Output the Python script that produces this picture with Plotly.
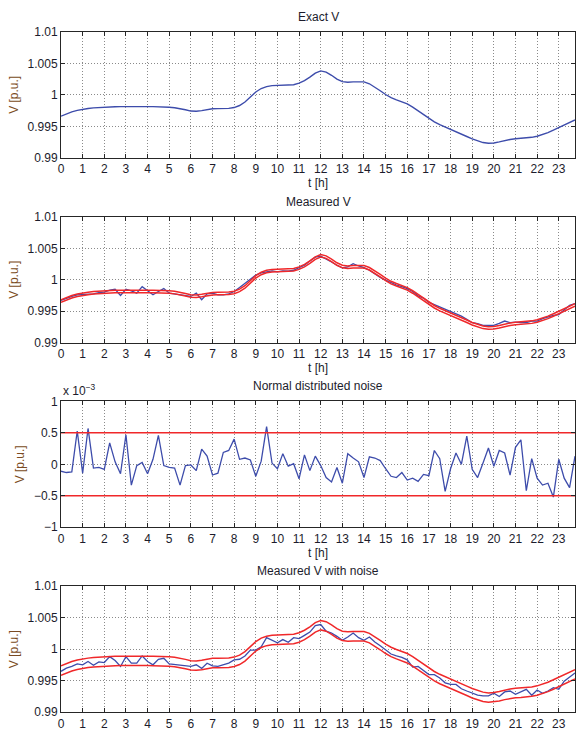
import plotly.graph_objects as go

# ---------------- data ----------------
hours = [q / 4 for q in range(96)]          # 15-minute samples, 0 .. 23.75 h
hour_ticks = list(range(24))

v_ticks = [0.99, 0.995, 1.0, 1.005, 1.01]
v_tick_text = ["0.99", "0.995", "1", "1.005", "1.01"]
noise_ticks = [-1, -0.5, 0, 0.5, 1]
noise_tick_text = ["\u22121", "\u22120.5", "0", "0.5", "1"]

exact_v = [
    0.99660, 0.99700, 0.99728, 0.99752, 0.99770, 0.99782, 0.99792, 0.99799,
    0.99804, 0.99808, 0.99811, 0.99813, 0.99815, 0.99816, 0.99816, 0.99815,
    0.99813, 0.99812, 0.99811, 0.99808, 0.99803, 0.99795, 0.99782, 0.99762,
    0.99742, 0.99738, 0.99748, 0.99765, 0.99778, 0.99780, 0.99781, 0.99785,
    0.99798, 0.99830, 0.99885, 0.99960, 1.00045, 1.00100, 1.00130, 1.00145,
    1.00150, 1.00150, 1.00150, 1.00160, 1.00185, 1.00225, 1.00280, 1.00345,
    1.00380, 1.00360, 1.00310, 1.00250, 1.00210, 1.00200, 1.00205, 1.00210,
    1.00205, 1.00175, 1.00125, 1.00065, 1.00005, 0.99955, 0.99920, 0.99890,
    0.99855, 0.99805, 0.99745, 0.99680, 0.99620, 0.99570, 0.99525, 0.99485,
    0.99448, 0.99412, 0.99375, 0.99338, 0.99300, 0.99268, 0.99242, 0.99230,
    0.99235, 0.99252, 0.99273, 0.99291, 0.99302, 0.99308, 0.99315, 0.99325,
    0.99342, 0.99368, 0.99400, 0.99438, 0.99478, 0.99518, 0.99558, 0.99600,
]

measured_v = [
    0.99671, 0.99708, 0.99734, 0.99760, 0.99765, 0.99765, 0.99775, 0.99796,
    0.99802, 0.99833, 0.99849, 0.99750, 0.99849, 0.99822, 0.99786, 0.99890,
    0.99828, 0.99760, 0.99812, 0.99859, 0.99786, 0.99775, 0.99760, 0.99750,
    0.99734, 0.99786, 0.99681, 0.99775, 0.99786, 0.99760, 0.99760, 0.99775,
    0.99812, 0.99875, 0.99943, 1.00005, 1.00073, 1.00110, 1.00125, 1.00141,
    1.00125, 1.00141, 1.00136, 1.00151, 1.00193, 1.00230, 1.00298, 1.00360,
    1.00376, 1.00334, 1.00282, 1.00230, 1.00188, 1.00204, 1.00256, 1.00219,
    1.00193, 1.00151, 1.00089, 1.00037, 0.99995, 0.99953, 0.99916, 0.99890,
    0.99859, 0.99812, 0.99744, 0.99708, 0.99640, 0.99603, 0.99567, 0.99525,
    0.99493, 0.99457, 0.99420, 0.99368, 0.99316, 0.99300, 0.99274, 0.99274,
    0.99274, 0.99305, 0.99342, 0.99316, 0.99326, 0.99316, 0.99316, 0.99342,
    0.99342, 0.99379, 0.99410, 0.99431, 0.99446, 0.99525, 0.99593, 0.99619,
]

measured_upper = [
    0.99680, 0.99720, 0.99748, 0.99772, 0.99790, 0.99802, 0.99812, 0.99819,
    0.99824, 0.99828, 0.99831, 0.99833, 0.99835, 0.99836, 0.99836, 0.99835,
    0.99833, 0.99832, 0.99831, 0.99828, 0.99823, 0.99815, 0.99802, 0.99782,
    0.99762, 0.99758, 0.99768, 0.99785, 0.99798, 0.99800, 0.99801, 0.99805,
    0.99818, 0.99850, 0.99905, 0.99980, 1.00065, 1.00120, 1.00150, 1.00165,
    1.00170, 1.00170, 1.00170, 1.00180, 1.00205, 1.00245, 1.00300, 1.00365,
    1.00400, 1.00380, 1.00330, 1.00270, 1.00230, 1.00220, 1.00225, 1.00230,
    1.00225, 1.00195, 1.00145, 1.00085, 1.00025, 0.99975, 0.99940, 0.99910,
    0.99875, 0.99825, 0.99765, 0.99700, 0.99640, 0.99590, 0.99545, 0.99505,
    0.99468, 0.99432, 0.99395, 0.99358, 0.99320, 0.99288, 0.99262, 0.99250,
    0.99255, 0.99272, 0.99293, 0.99311, 0.99322, 0.99328, 0.99335, 0.99345,
    0.99362, 0.99388, 0.99420, 0.99458, 0.99498, 0.99538, 0.99578, 0.99620,
]

measured_lower = [
    0.99640, 0.99680, 0.99708, 0.99732, 0.99750, 0.99762, 0.99772, 0.99779,
    0.99784, 0.99788, 0.99791, 0.99793, 0.99795, 0.99796, 0.99796, 0.99795,
    0.99793, 0.99792, 0.99791, 0.99788, 0.99783, 0.99775, 0.99762, 0.99742,
    0.99722, 0.99718, 0.99728, 0.99745, 0.99758, 0.99760, 0.99761, 0.99765,
    0.99778, 0.99810, 0.99865, 0.99940, 1.00025, 1.00080, 1.00110, 1.00125,
    1.00130, 1.00130, 1.00130, 1.00140, 1.00165, 1.00205, 1.00260, 1.00325,
    1.00360, 1.00340, 1.00290, 1.00230, 1.00190, 1.00180, 1.00185, 1.00190,
    1.00185, 1.00155, 1.00105, 1.00045, 0.99985, 0.99935, 0.99900, 0.99870,
    0.99835, 0.99785, 0.99725, 0.99660, 0.99600, 0.99550, 0.99505, 0.99465,
    0.99428, 0.99392, 0.99355, 0.99318, 0.99280, 0.99248, 0.99222, 0.99210,
    0.99215, 0.99232, 0.99253, 0.99271, 0.99282, 0.99288, 0.99295, 0.99305,
    0.99322, 0.99348, 0.99380, 0.99418, 0.99458, 0.99498, 0.99538, 0.99580,
]

# noise in units of 1e-3 p.u.
noise = [
    -0.11, -0.13, -0.12, 0.53, -0.14, 0.57, -0.06, -0.05,
    -0.08, 0.34, 0.04, -0.15, 0.47, -0.33, -0.02, 0.03,
    -0.15, 0.08, 0.46, -0.02, -0.05, -0.06, -0.33, -0.02,
    -0.01, -0.10, 0.24, 0.13, -0.17, -0.14, 0.19, 0.22,
    0.40, 0.08, 0.10, 0.07, -0.19, 0.05, 0.60, 0.02,
    -0.07, 0.17, -0.03, 0.01, -0.23, 0.15, -0.10, 0.13,
    -0.02, -0.21, -0.28, -0.05, -0.30, 0.17, 0.10, 0.04,
    -0.21, 0.12, 0.10, 0.06, -0.07, -0.19, -0.21, -0.13,
    -0.25, -0.22, -0.27, -0.16, -0.18, 0.22, 0.09, -0.43,
    -0.07, 0.18, 0.00, 0.45, -0.08, -0.21, 0.02, 0.26,
    -0.03, 0.22, 0.18, -0.17, 0.27, 0.39, -0.42, 0.09,
    -0.22, -0.33, -0.30, -0.52, 0.08, -0.22, -0.37, 0.13,
]
noise_limits = [0.5, -0.5]

noisy_v = [
    0.99647, 0.99699, 0.99725, 0.99766, 0.99751, 0.99803, 0.99745, 0.99797,
    0.99787, 0.99881, 0.99818, 0.99725, 0.99881, 0.99777, 0.99777, 0.99891,
    0.99803, 0.99751, 0.99839, 0.99855, 0.99766, 0.99756, 0.99745, 0.99725,
    0.99725, 0.99751, 0.99694, 0.99777, 0.99735, 0.99725, 0.99751, 0.99777,
    0.99829, 0.99839, 0.99891, 0.99984, 0.99984, 1.00036, 1.00182, 1.00140,
    1.00099, 1.00151, 1.00109, 1.00182, 1.00166, 1.00218, 1.00270, 1.00374,
    1.00390, 1.00286, 1.00255, 1.00203, 1.00140, 1.00192, 1.00255, 1.00182,
    1.00140, 1.00192, 1.00114, 1.00052, 0.99984, 0.99922, 0.99891, 0.99870,
    0.99829, 0.99714, 0.99725, 0.99662, 0.99595, 0.99595, 0.99543, 0.99465,
    0.99439, 0.99439, 0.99371, 0.99335, 0.99299, 0.99268, 0.99257, 0.99257,
    0.99299, 0.99247, 0.99320, 0.99335, 0.99283, 0.99320, 0.99361, 0.99268,
    0.99351, 0.99299, 0.99335, 0.99387, 0.99361, 0.99491, 0.99560, 0.99620,
]

noisy_upper = [
    0.99735, 0.99775, 0.99803, 0.99827, 0.99845, 0.99857, 0.99867, 0.99874,
    0.99879, 0.99883, 0.99886, 0.99888, 0.99890, 0.99891, 0.99891, 0.99890,
    0.99888, 0.99887, 0.99886, 0.99883, 0.99878, 0.99870, 0.99857, 0.99837,
    0.99817, 0.99813, 0.99823, 0.99840, 0.99853, 0.99855, 0.99856, 0.99860,
    0.99873, 0.99905, 0.99960, 1.00035, 1.00120, 1.00175, 1.00205, 1.00220,
    1.00225, 1.00225, 1.00225, 1.00235, 1.00260, 1.00300, 1.00355, 1.00420,
    1.00455, 1.00435, 1.00385, 1.00325, 1.00285, 1.00275, 1.00280, 1.00285,
    1.00280, 1.00250, 1.00200, 1.00140, 1.00080, 1.00030, 0.99995, 0.99965,
    0.99930, 0.99880, 0.99820, 0.99755, 0.99695, 0.99645, 0.99600, 0.99560,
    0.99523, 0.99487, 0.99450, 0.99413, 0.99375, 0.99343, 0.99317, 0.99305,
    0.99310, 0.99327, 0.99348, 0.99366, 0.99377, 0.99383, 0.99390, 0.99400,
    0.99417, 0.99443, 0.99475, 0.99513, 0.99553, 0.99593, 0.99633, 0.99675,
]

noisy_lower = [
    0.99585, 0.99625, 0.99653, 0.99677, 0.99695, 0.99707, 0.99717, 0.99724,
    0.99729, 0.99733, 0.99736, 0.99738, 0.99740, 0.99741, 0.99741, 0.99740,
    0.99738, 0.99737, 0.99736, 0.99733, 0.99728, 0.99720, 0.99707, 0.99687,
    0.99667, 0.99663, 0.99673, 0.99690, 0.99703, 0.99705, 0.99706, 0.99710,
    0.99723, 0.99755, 0.99810, 0.99885, 0.99970, 1.00025, 1.00055, 1.00070,
    1.00075, 1.00075, 1.00075, 1.00085, 1.00110, 1.00150, 1.00205, 1.00270,
    1.00305, 1.00285, 1.00235, 1.00175, 1.00135, 1.00125, 1.00130, 1.00135,
    1.00130, 1.00100, 1.00050, 0.99990, 0.99930, 0.99880, 0.99845, 0.99815,
    0.99780, 0.99730, 0.99670, 0.99605, 0.99545, 0.99495, 0.99450, 0.99410,
    0.99373, 0.99337, 0.99300, 0.99263, 0.99225, 0.99193, 0.99167, 0.99155,
    0.99160, 0.99177, 0.99198, 0.99216, 0.99227, 0.99233, 0.99240, 0.99250,
    0.99267, 0.99293, 0.99325, 0.99363, 0.99403, 0.99443, 0.99483, 0.99525,
]

titles = ["Exact V", "Measured V", "Normal distributed noise", "Measured V with noise"]
x_title = "t [h]"
y_title = "V [p.u.]"

# ---------------- styling ----------------
W, H = 576, 740
ML = 61
FONT = "Liberation Sans, Arial, Helvetica, sans-serif"
BLUE = "#3d4cab"
RED = "#f0282a"
AX = "#262626"
GRID = "#8a8a8a"
TXT = "#1c1c2c"
YLAB = "#7a4b22"

# plot-area pixel rows (top, bottom)
rows_px = [(25.3, 153.7), (214.0, 342.0), (402.0, 530.3), (590.3, 718.7)]
domains = [[1 - b / H, 1 - t / H] for (t, b) in rows_px]

fig = go.Figure()


def line(x, y, color, k, width=1.3):
    fig.add_trace(go.Scatter(
        x=x, y=y, mode="lines", line=dict(color=color, width=width),
        xaxis="x" if k == 1 else f"x{k}", yaxis="y" if k == 1 else f"y{k}",
        showlegend=False, hoverinfo="skip"))


# panel 1
line(hours, exact_v, BLUE, 1, 1.4)
# panel 2
line(hours, measured_v, BLUE, 2)
line(hours, measured_upper, RED, 2, 1.5)
line(hours, measured_lower, RED, 2, 1.5)
# panel 3
line(hours, noise, BLUE, 3)
for lim in noise_limits:
    line([hours[0], hours[-1]], [lim, lim], RED, 3, 1.5)
# panel 4
line(hours, noisy_v, BLUE, 4)
line(hours, noisy_upper, RED, 4, 1.5)
line(hours, noisy_lower, RED, 4, 1.5)

layout = dict(
    width=W, height=H,
    margin=dict(l=ML, r=0, t=0, b=0, pad=0),
    paper_bgcolor="white", plot_bgcolor="white",
    font=dict(family=FONT, size=12, color=TXT),
    showlegend=False,
    annotations=[],
)

for k in range(1, 5):
    xa = "xaxis" if k == 1 else f"xaxis{k}"
    ya = "yaxis" if k == 1 else f"yaxis{k}"
    yref = "y" if k == 1 else f"y{k}"
    xref = "x" if k == 1 else f"x{k}"
    common = dict(
        showline=True, linecolor=AX, linewidth=1, mirror="ticks",
        ticks="inside", ticklen=4, tickcolor=AX, tickwidth=1,
        showgrid=True, gridcolor=GRID, gridwidth=1, griddash="1px,2px",
        zeroline=False, tickfont=dict(family=FONT, size=12, color=TXT),
        fixedrange=True,
    )
    xaxis = dict(
        common, domain=[0, 1], anchor=yref, range=[hours[0], hours[-1]],
        tickmode="array", tickvals=hour_ticks, ticktext=[str(h) for h in hour_ticks],
    )
    if k < 4:  # the bottom panel's axis title falls below the picture edge
        xaxis["title"] = dict(text=x_title, standoff=2,
                              font=dict(family=FONT, size=12, color=TXT))
    layout[xa] = xaxis
    if k == 3:
        yr, tv, tt = [-1, 1], noise_ticks, noise_tick_text
    else:
        yr, tv, tt = [0.99, 1.01], v_ticks, v_tick_text
    layout[ya] = dict(
        common, domain=domains[k - 1], anchor=xref, range=yr,
        tickmode="array", tickvals=tv, ticktext=tt,
        title=dict(text=y_title, standoff=6, font=dict(family=FONT, size=12, color=YLAB)),
    )
    layout["annotations"].append(dict(
        text=titles[k - 1], xref="paper", yref="paper", x=0.5, y=domains[k - 1][1],
        xanchor="center", yanchor="middle", yshift=15, showarrow=False,
        font=dict(family=FONT, size=12, color=TXT)))

layout["annotations"].append(dict(
    text="x 10<sup>\u22123</sup>", xref="paper", yref="paper", x=0, y=domains[2][1],
    xanchor="left", yanchor="middle", yshift=11, showarrow=False,
    font=dict(family=FONT, size=12, color=TXT)))

fig.update_layout(**layout)
fig.write_html(
    "out.html",
    config={"displayModeBar": False},
    post_script="document.body.style.margin='0';document.body.style.overflow='hidden';",
)
